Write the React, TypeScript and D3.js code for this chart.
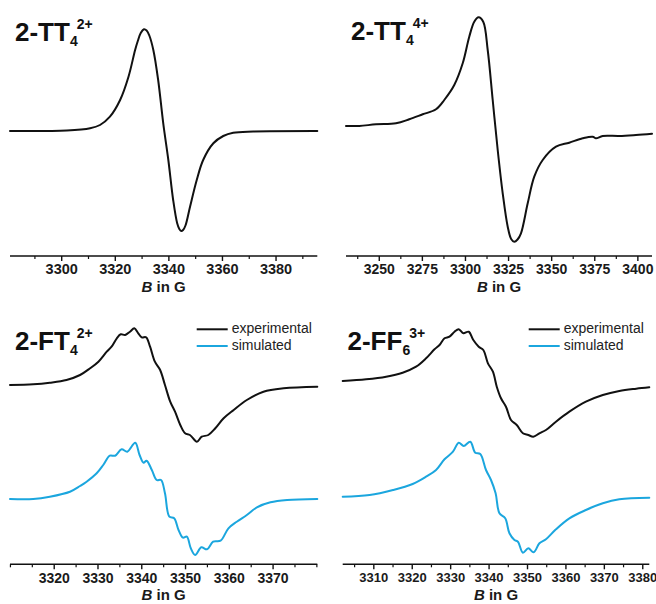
import React from "react";
import * as d3 from "d3";

// ---- Data (B in G, intensity in arbitrary units) ----
const TT2_EXP: [number, number][] = [
  [3280.7, 0], [3301.9, 0.5], [3310.6, 2.7], [3314.3, 6], [3318, 14.3], [3321.8, 31],
  [3324.9, 54], [3327.4, 81], [3328.4, 90], [3329.5, 98], [3330.7, 101.7], [3331.7, 100.5],
  [3332.7, 95.5], [3334.2, 81], [3336, 51], [3337.9, 7.7], [3339.8, -29], [3341.6, -69],
  [3343.1, -92.3], [3343.9, -98], [3344.6, -100], [3345.3, -99], [3346.2, -94.5],
  [3347.9, -75.7], [3350.4, -49], [3352.8, -29], [3356.6, -12.3], [3360.3, -5],
  [3364, -1.7], [3371.5, -0.5], [3395.4, 0],
];

const TT4_EXP: [number, number][] = [
  [3230.7, 0], [3238.4, 0], [3248.1, 1.7], [3259.7, 2.7], [3267.4, 6.7], [3275.2, 11.7],
  [3282.9, 16.7], [3287.7, 26], [3293.5, 41], [3298.4, 62.7], [3302.2, 89.3], [3305.1, 104.3],
  [3307.6, 108.7], [3310.3, 104.3], [3312.9, 76], [3315.8, 26], [3318.7, -24], [3321.6, -67.3],
  [3324.5, -100.7], [3326.5, -113], [3328.3, -115.7], [3330.2, -113.5], [3332.2, -107.3],
  [3336.1, -77.3], [3339.9, -50.7], [3344.8, -34], [3352.5, -20.7], [3360.2, -16.7],
  [3368, -12.3], [3373.8, -10.7], [3375.7, -12.3], [3379.6, -10], [3389.2, -10],
  [3398.9, -9], [3408.2, -7.7],
];

const FT_EXP: [number, number][] = [
  [3309.9, 0], [3315.2, 0.7], [3319, 2.3], [3322.8, 5], [3325.9, 10], [3328.2, 16.7],
  [3330.1, 23.3], [3332, 33.3], [3333.1, 38.3], [3334.3, 46.7], [3335.2, 50.7], [3336.2, 50],
  [3337.3, 53.3], [3338.3, 56.7], [3339.2, 51.7], [3340, 47.7], [3341, 47.7], [3341.9, 38.3],
  [3343, 23.3], [3344.2, 15], [3345.3, 0], [3346.5, -16.7], [3347.6, -26.7], [3348.8, -40],
  [3349.9, -48.3], [3351, -50], [3352.6, -56.7], [3353.7, -51.7], [3355.2, -50],
  [3356.8, -43.3], [3358.7, -33.3], [3361, -25], [3364, -15], [3367.8, -6.7], [3372.4, -3.3],
  [3380.1, -1.7],
];

const FT_SIM: [number, number][] = [
  [3309.9, 0], [3315.2, 0], [3319, 2.3], [3323.6, 7.3], [3325.9, 13], [3327.4, 17.3],
  [3329.7, 25.7], [3331.2, 34], [3332.7, 43.3], [3333.9, 43.3], [3335.4, 49.7], [3336.7, 47.3],
  [3338.5, 56.3], [3339.5, 44], [3340.4, 36.3], [3341.1, 38.3], [3342.3, 29], [3343.4, 19],
  [3344.4, 19], [3345.3, 5.7], [3346.3, -17.7], [3347.4, -19.3], [3348.4, -31], [3349.4, -38.7],
  [3350.3, -37.7], [3351.2, -49.3], [3352.2, -56], [3353.6, -48.3], [3354.9, -50.3],
  [3356.3, -42.7], [3358, -41.7], [3359.8, -29.3], [3361.7, -22.7], [3364, -16], [3366.3, -8.3],
  [3369.4, -3.3], [3373.2, -1], [3380.1, 0],
];

const FF_EXP: [number, number][] = [
  [3301.9, 0], [3308, 1.7], [3313.2, 4.3], [3317.5, 8.3], [3321, 14.3], [3323.6, 22.7],
  [3325.8, 31.7], [3327.1, 36], [3328.4, 42.7], [3329.7, 44.3], [3331, 49.3], [3332.1, 51.7],
  [3333.3, 47.7], [3334.7, 49.3], [3335.9, 41], [3337.3, 34.3], [3338.5, 31], [3339.7, 17.7],
  [3341, 9.3], [3342, -5.7], [3343.1, -17.3], [3344.4, -25.7], [3345.7, -39], [3347.2, -44],
  [3348.8, -52.3], [3350.2, -54], [3351.5, -55.7], [3353.1, -52.3], [3354.8, -49],
  [3357.4, -40.7], [3360.9, -30.7], [3365.2, -20.7], [3369.6, -14], [3373.9, -10],
  [3378.3, -7.7], [3381.7, -6.3],
];

const FF_SIM: [number, number][] = [
  [3301.9, 0], [3308.9, 1.7], [3315, 6.7], [3320.1, 12.7], [3323.6, 20], [3326.2, 26.7],
  [3328.4, 37.4], [3330.6, 45], [3332.1, 54], [3333.4, 50.7], [3335.1, 55], [3336.4, 44],
  [3337.7, 42.7], [3339.2, 26.7], [3340.5, 16.7], [3341.7, 3.4], [3342.7, -16.6],
  [3344.2, -21.6], [3345.3, -36.6], [3346.6, -43.3], [3347.5, -45], [3348.8, -56],
  [3350.2, -51.6], [3351.6, -55.6], [3353.1, -46.6], [3354.8, -42.6], [3357.4, -32.6],
  [3360.9, -21.6], [3365.2, -13.3], [3369.6, -6.6], [3373.9, -2.6], [3381.7, -1],
];

const TICKS_TT2 = [3300, 3320, 3340, 3360, 3380];
const TICKS_TT4 = [3250, 3275, 3300, 3325, 3350, 3375, 3400];
const TICKS_FT = [3320, 3330, 3340, 3350, 3360, 3370];
const TICKS_FF = [3310, 3320, 3330, 3340, 3350, 3360, 3370, 3380];

const LEGEND_LABELS = ["experimental", "simulated"];

const BLACK = "#111";
const BLUE = "#1ba6de";
const FONT = "'Liberation Sans', Arial, Helvetica, sans-serif";

type Series = { data: [number, number][]; base: number; color: string };
type PanelCfg = {
  domain: [number, number];
  range: [number, number];
  axisY: number;
  ticks: number[];
  minorStep: number;
  tickFont: number;
  series: Series[];
  title: { main: string; sub: string; sup: string; x: number; y: number };
  legend?: { x: number; y: number };
};

const panels: PanelCfg[] = [
  {
    domain: [3280.7, 3395.4], range: [10, 317.3], axisY: 256, ticks: TICKS_TT2, minorStep: 10,
    tickFont: 14.5,
    series: [{ data: TT2_EXP, base: 131, color: BLACK }],
    title: { main: "2-TT", sub: "4", sup: "2+", x: 15, y: 40.5 },
  },
  {
    domain: [3230.7, 3408.2], range: [346, 652], axisY: 256, ticks: TICKS_TT4, minorStep: 12.5,
    tickFont: 14,
    series: [{ data: TT4_EXP, base: 126, color: BLACK }],
    title: { main: "2-TT", sub: "4", sup: "4+", x: 351, y: 40 },
  },
  {
    domain: [3309.9, 3380.1], range: [10, 317.3], axisY: 564.3, ticks: TICKS_FT, minorStep: 5,
    tickFont: 14,
    series: [
      { data: FT_EXP, base: 385, color: BLACK },
      { data: FT_SIM, base: 499, color: BLUE },
    ],
    title: { main: "2-FT", sub: "4", sup: "2+", x: 15, y: 350 },
    legend: { x: 196.7, y: 329.3 },
  },
  {
    domain: [3301.9, 3381.7], range: [342.7, 649.3], axisY: 564.3, ticks: TICKS_FF, minorStep: 5,
    tickFont: 13,
    series: [
      { data: FF_EXP, base: 381, color: BLACK },
      { data: FF_SIM, base: 496.7, color: BLUE },
    ],
    title: { main: "2-FF", sub: "6", sup: "3+", x: 347.5, y: 349.5 },
    legend: { x: 528.7, y: 329.3 },
  },
];

function Panel({ cfg }: { cfg: PanelCfg }) {
  const x = d3.scaleLinear().domain(cfg.domain).range(cfg.range);
  const minor = d3.range(
    Math.ceil(cfg.domain[0] / cfg.minorStep) * cfg.minorStep,
    cfg.domain[1] + 1e-9,
    cfg.minorStep
  ).filter((v) => !cfg.ticks.includes(v));
  const t = cfg.title;
  return (
    <g>
      {cfg.series.map((s, i) => {
        const y = d3.scaleLinear().domain([0, 100]).range([s.base, s.base - 100]);
        const line = d3
          .line<[number, number]>()
          .x((d) => x(d[0]))
          .y((d) => y(d[1]))
          .curve(d3.curveCatmullRom.alpha(0.5));
        return (
          <path key={i} d={line(s.data) || ""} fill="none" stroke={s.color}
            strokeWidth={2} strokeLinejoin="round" strokeLinecap="round" />
        );
      })}
      {/* axis */}
      <line x1={cfg.range[0]} x2={cfg.range[1]} y1={cfg.axisY} y2={cfg.axisY}
        stroke={BLACK} strokeWidth={1.6} />
      {minor.map((v) => (
        <line key={"m" + v} x1={x(v)} x2={x(v)} y1={cfg.axisY} y2={cfg.axisY + 3}
          stroke={BLACK} strokeWidth={1.2} />
      ))}
      {cfg.ticks.map((v) => (
        <g key={"t" + v}>
          <line x1={x(v)} x2={x(v)} y1={cfg.axisY} y2={cfg.axisY + 5} stroke={BLACK}
            strokeWidth={1.4} />
          <text x={x(v)} y={cfg.axisY + 14.5} textAnchor="middle" dominantBaseline="middle"
            fontFamily={FONT} fontWeight="bold" fontSize={cfg.tickFont} fill="#1a1a1a">
            {v}
          </text>
        </g>
      ))}
      <text x={(cfg.range[0] + cfg.range[1]) / 2} y={cfg.axisY + 32} textAnchor="middle"
        dominantBaseline="middle" fontFamily={FONT} fontWeight="bold" fontSize={15} fill="#1a1a1a">
        <tspan fontStyle="italic">B</tspan> in G
      </text>
      {/* title */}
      <text x={t.x} y={t.y} fontFamily={FONT} fontWeight="bold" fontSize={26} fill={BLACK}>
        {t.main}
        <tspan fontSize={14} dy={5}>{t.sub}</tspan>
        <tspan fontSize={14} dx={-1} dy={-17}>{t.sup}</tspan>
      </text>
      {cfg.legend &&
        LEGEND_LABELS.map((lab, i) => (
          <g key={lab}>
            <line x1={cfg.legend!.x} x2={cfg.legend!.x + 31} y1={cfg.legend!.y + i * 16.7}
              y2={cfg.legend!.y + i * 16.7} stroke={i === 0 ? BLACK : BLUE} strokeWidth={2} />
            <text x={cfg.legend!.x + 35} y={cfg.legend!.y + i * 16.7} dominantBaseline="middle"
              fontFamily={FONT} fontSize={14} fill="#222">
              {lab}
            </text>
          </g>
        ))}
    </g>
  );
}

export default function App() {
  return (
    <svg width={656} height={604} viewBox="0 0 656 604"
      style={{ position: "absolute", left: 0, top: 0, background: "#fff" }}>
      <rect width={656} height={604} fill="#fff" />
      {panels.map((p, i) => (
        <Panel key={i} cfg={p} />
      ))}
    </svg>
  );
}
